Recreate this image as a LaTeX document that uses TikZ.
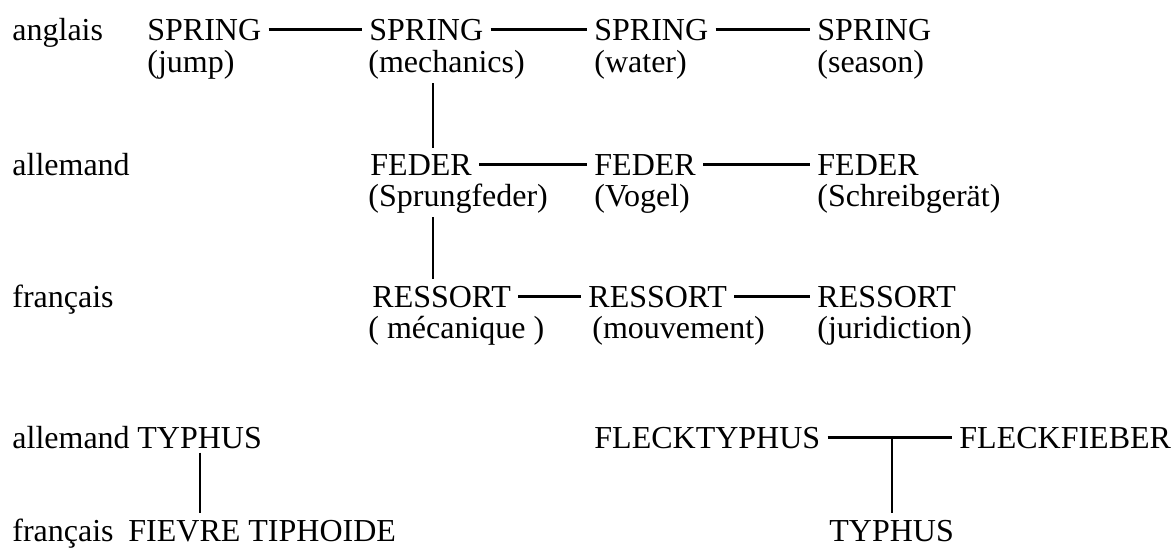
\documentclass[tikz,border=0pt]{standalone}
\usepackage{fontspec}
\setmainfont{Liberation Serif}
\begin{document}
\begin{tikzpicture}[x=0.5pt,y=-0.5pt,
        every node/.style={inner sep=0pt,anchor=base west,font=\fontsize{16}{19}\selectfont},
        link/.style={line width=1.1pt,shorten <=3.5pt,shorten >=3.5pt},
        vlink/.style={line width=1.1pt,shorten <=2pt,shorten >=3pt},
        stem/.style={line width=1.1pt,shorten >=3pt}]
        \useasboundingbox (0,0) rectangle (1176,547);

        % languages
        \node (en) at (12,40) {anglais};
        \node (de) at (12,175) {allemand};
        \node (fr) at (12,307) {français};
        \node (deb) at (12,448) {allemand};
        \node (frb) at (12,541) {français};

        % spring
        \node (s1) at (147,40) {SPRING};
        \node (s2) at (369,40) {SPRING};
        \node (s3) at (594,40) {SPRING};
        \node (s4) at (817,40) {SPRING};
        \node (gs1) at (147,72) {(jump)};
        \node (gs2) at (368,72) {(mechanics)};
        \node (gs3) at (594,72) {(water)};
        \node (gs4) at (817,72) {(season)};

        % feder
        \node (f2) at (370,175) {FEDER};
        \node (f3) at (594,175) {FEDER};
        \node (f4) at (817,175) {FEDER};
        \node (gf2) at (368,206) {(Sprungfeder)};
        \node (gf3) at (594,206) {(Vogel)};
        \node (gf4) at (817,206) {(Schreibgerät)};

        % ressort
        \node (r2) at (372,307) {RESSORT};
        \node (r3) at (588,307) {RESSORT};
        \node (r4) at (817,307) {RESSORT};
        \node (gr2) at (368,338) {( mécanique )};
        \node (gr3) at (592,338) {(mouvement)};
        \node (gr4) at (817,338) {(juridiction)};

        % typhus
        \node (ty1) at (137,448) {TYPHUS};
        \node (fi) at (128,541) {FIEVRE TIPHOIDE};
        \node (ft) at (594,448) {FLECKTYPHUS};
        \node (fb) at (959,448) {FLECKFIEBER};
        \node (ty2) at (829,541) {TYPHUS};

        % horizontal line
        \draw[link] (s1.east) -- (s2.west);
        \draw[link] (s2.east) -- (s3.west);
        \draw[link] (s3.east) -- (s4.west);
        \draw[link] (f2.east) -- (f3.west);
        \draw[link] (f3.east) -- (f4.west);
        \draw[link] (r2.east) -- (r3.west);
        \draw[link] (r3.east) -- (r4.west);
        \draw[link] (ft.east) -- (fb.west);

        % vertical line
        \coordinate (vx) at (433,0);
        \draw[vlink] (gs2.south -| vx) -- (f2.north -| vx);
        \draw[vlink] (gf2.south -| vx) -- (r2.north -| vx);
        \draw[vlink] (ty1.south) -- (ty1.south |- fi.north);
        \draw[stem] (ty2.north |- ft.east) -- (ty2.north);
    \end{tikzpicture}
\end{document}
